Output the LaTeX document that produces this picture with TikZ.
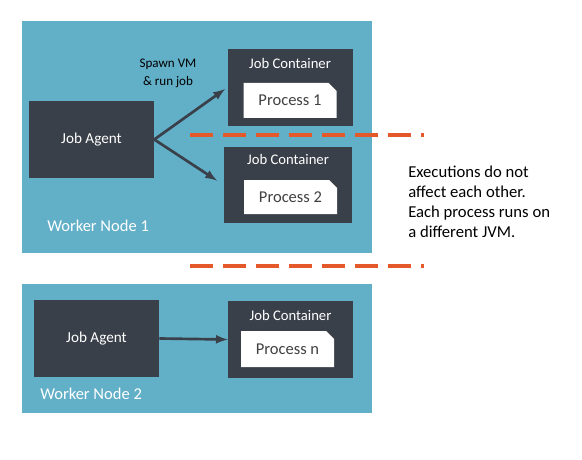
\documentclass[tikz,border=0pt]{standalone}
\usepackage{fontspec}
\setmainfont{Carlito}
\usetikzlibrary{shapes.misc}
\tikzset{>=latex}
\newcommand{\pxu}{0.75pt}
\definecolor{worker}{HTML}{62AFC8}
\definecolor{slate}{HTML}{3A4049}
\definecolor{split}{HTML}{E4592A}
\tikzset{
  workerbox/.style = {fill=worker, minimum width=350*\pxu, minimum height=#1*\pxu, inner sep=0},
  agentbox/.style = {fill=slate, text=white, minimum width=125*\pxu, minimum height=77*\pxu, inner sep=0,
     font=\fontsize{11.4}{13}\selectfont},
  containerbox/.style = {fill=slate, minimum width=125*\pxu, minimum height=77*\pxu, inner sep=0},
  containertitle/.style = {text=white, font=\fontsize{11}{13}\selectfont, inner sep=0},
  processbox/.style = {chamfered rectangle, chamfered rectangle corners=north east, chamfered rectangle xsep=3pt,
     chamfered rectangle ysep=3pt, fill=white, text=black!75, minimum width=93*\pxu, minimum height=35*\pxu,
     inner sep=0, font=\fontsize{12.4}{14}\selectfont},
  workerlabel/.style = {text=white, font=\fontsize{12.4}{14}\selectfont, anchor=base west, inner sep=0},
  spawn/.style = {->, line width=2pt, draw=slate},
  splitline/.style = {split, line width=2.6pt, dash pattern=on 17.25pt off 7.5pt}
}
\begin{document}
\begin{tikzpicture}[x=0.75pt, y=-0.75pt]
		\useasboundingbox (0,0) rectangle (582,460);

		% Worker nodes
		\node[workerbox=231] (worker1) at (197,137) {};
		\node[workerbox=129] (worker2) at (197,348.5) {};
		\node[workerlabel] (worker1label) at (47,231) {Worker Node 1};
		\node[workerlabel] (worker2label) at (40,399) {Worker Node 2};

		% Agents
		\node[agentbox] (agent1) at (91.5,139.5) {Job Agent};
		\node[agentbox] (agent2) at (96.5,338.5) {Job Agent};

		% Containers
		\node[containerbox] (cont1) at (290,87.5) {};
		\node[containertitle] (cont1title) at (290,63) {Job Container};
		\node[processbox] (proc1) at (290,100.5) {Process 1};

		\node[containerbox, minimum width=128*\pxu, minimum height=76*\pxu] (cont2) at (288,185) {};
		\node[containertitle] (cont2title) at (288,159) {Job Container};
		\node[processbox, minimum height=34*\pxu] (proc2) at (290.5,197) {Process 2};

		\node[containerbox] (contn) at (290.5,339.5) {};
		\node[containertitle] (contntitle) at (290.5,315) {Job Container};
		\node[processbox, minimum height=36*\pxu] (procn) at (287.5,349) {Process n};

		% Spawn arrows
		\node[align=center, font=\fontsize{9.8}{13.5}\selectfont, inner sep=0] (spawnlabel) at (168,73) {Spawn VM\\\& run job};
		\draw[spawn, shorten >=2] (agent1.east) -- (cont1.west);
		\draw[spawn, shorten >=6] (agent1.east) -- (cont2.west);
		\draw[spawn] (agent2.east) -- (contn.west);

		% Isolation lines
		\coordinate (split1a) at (190,135);
		\coordinate (split1b) at (424,135);
		\coordinate (split2a) at (190,266);
		\coordinate (split2b) at (424,266);
		\draw[splitline] (split1a) -- (split1b);
		\draw[splitline] (split2a) -- (split2b);

		% Note
		\node[anchor=base west, align=left, inner sep=0, font=\fontsize{12.5}{15}\selectfont] (note) at (408,237)
			{Executions do not\\affect each other.\\Each process runs on\\a different JVM.};
	\end{tikzpicture}
\end{document}
